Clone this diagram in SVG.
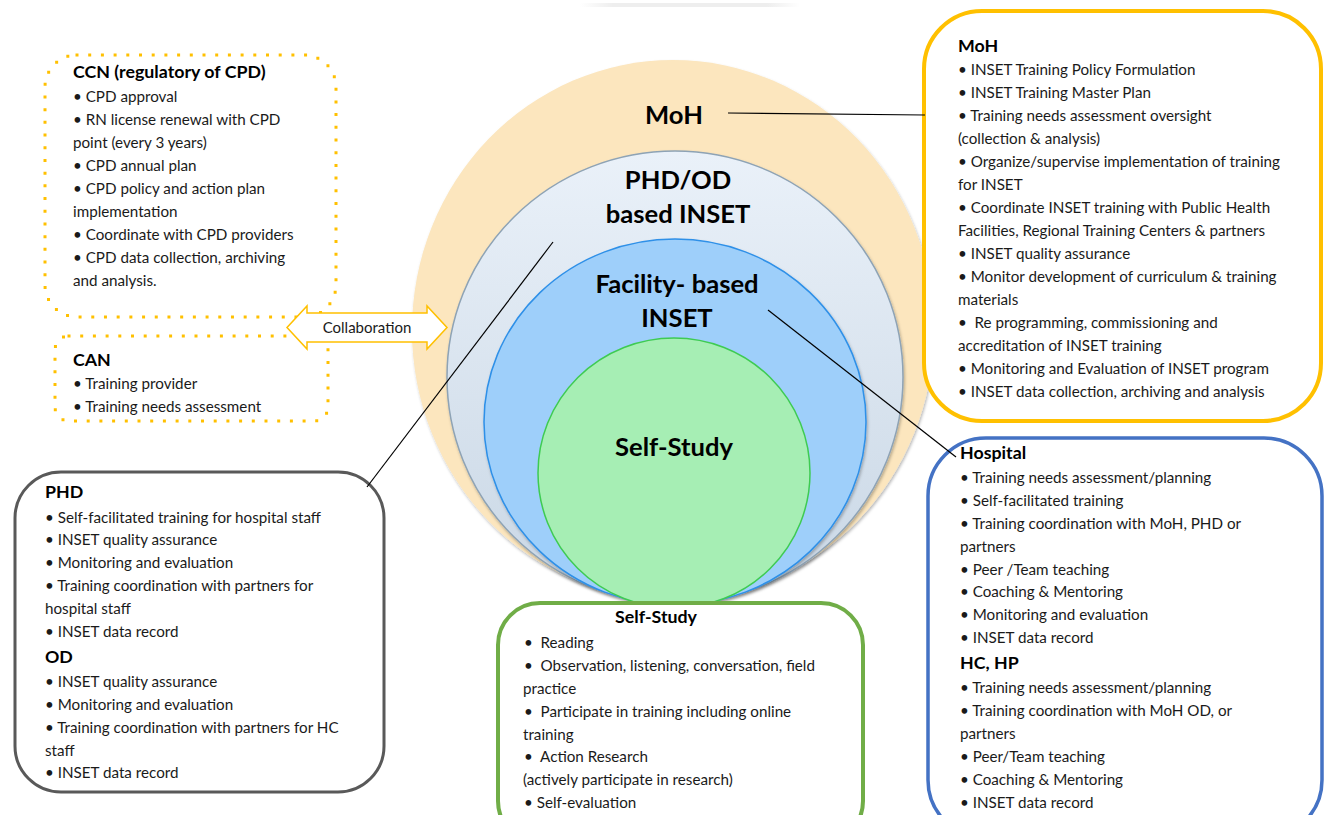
<svg xmlns="http://www.w3.org/2000/svg" width="1325" height="815" viewBox="0 0 1325 815">
  <style>
    .t { font-family: Lato, "Liberation Sans", sans-serif; font-size: 15.2px; fill: #1a1a1a; }
    .b { font-family: Lato, "Liberation Sans", sans-serif; font-size: 17.8px; font-weight: bold; fill: #000; }
    .c { font-family: Lato, "Liberation Sans", sans-serif; font-size: 25.6px; font-weight: bold; fill: #000; text-anchor: middle; }
    .dots { fill: #fff; stroke: #FFC000; stroke-width: 3; stroke-dasharray: 0 12.7; stroke-linecap: square; }
    .conn { stroke: #000; stroke-width: 1.2; fill: none; }
    .ring { filter: url(#soft); }
  </style>
  <defs>
    <linearGradient id="gPhd" x1="0" y1="0" x2="0" y2="1">
      <stop offset="0" stop-color="#EAF1F9"/>
      <stop offset="1" stop-color="#C9D7E5"/>
    </linearGradient>
    <linearGradient id="gTop" x1="0" y1="0" x2="1" y2="0">
      <stop offset="0" stop-color="#eee" stop-opacity="0"/>
      <stop offset="0.15" stop-color="#eee"/>
      <stop offset="0.85" stop-color="#eee"/>
      <stop offset="1" stop-color="#eee" stop-opacity="0"/>
    </linearGradient>
    <filter id="soft" x="-5%" y="-5%" width="110%" height="112%">
      <feDropShadow dx="1" dy="2" stdDeviation="1.5" flood-color="#000" flood-opacity="0.28"/>
    </filter>
  </defs>

  <rect width="1325" height="815" fill="#fff"/>
  <rect x="580" y="3" width="220" height="4" fill="url(#gTop)"/>

  <!-- nested levels -->
  <g id="level-moh">
    <ellipse class="ring" cx="673" cy="330" rx="261" ry="270" fill="#FCE6BE"/>
    <text class="c" x="674" y="124">MoH</text>
  </g>
  <g id="level-phd">
    <ellipse class="ring" cx="675" cy="377" rx="228" ry="226" fill="url(#gPhd)" stroke="#8EA3B5" stroke-width="1.5"/>
    <text class="c" x="678" y="189">PHD/OD</text>
    <text class="c" x="678" y="223">based INSET</text>
  </g>
  <g id="level-facility">
    <ellipse class="ring" cx="675" cy="422" rx="191" ry="183" fill="#9ECFFA" stroke="#2E90E8" stroke-width="1.5"/>
    <text class="c" x="677" y="293">Facility- based</text>
    <text class="c" x="677" y="327">INSET</text>
  </g>
  <g id="level-self">
    <ellipse cx="674" cy="473" rx="136" ry="135" fill="#A6EEB4" stroke="#3ECB52" stroke-width="1.5"/>
    <text class="c" x="674" y="456">Self-Study</text>
  </g>

  <!-- CCN -->
  <g id="ccn">
    <rect class="dots" x="45" y="55" width="291" height="262" rx="32"/>
    <text class="b" x="73" y="78">CCN (regulatory of CPD)</text>
    <text class="t" x="73" y="102">• CPD approval</text>
    <text class="t" x="73" y="125">• RN license renewal with CPD</text>
    <text class="t" x="73" y="148">point (every 3 years)</text>
    <text class="t" x="73" y="171">• CPD annual plan</text>
    <text class="t" x="73" y="194">• CPD policy and action plan</text>
    <text class="t" x="73" y="217">implementation</text>
    <text class="t" x="73" y="240">• Coordinate with CPD providers</text>
    <text class="t" x="73" y="263">• CPD data collection, archiving</text>
    <text class="t" x="73" y="286">and analysis.</text>
  </g>

  <!-- CAN -->
  <g id="can">
    <rect class="dots" x="55" y="336" width="273" height="85" rx="14"/>
    <text class="b" x="73" y="366">CAN</text>
    <text class="t" x="73" y="389">• Training provider</text>
    <text class="t" x="73" y="412">• Training needs assessment</text>
  </g>

  <!-- MoH -->
  <g id="moh">
    <rect x="924" y="11" width="397" height="410" rx="58" fill="#fff" stroke="#FFC000" stroke-width="4"/>
    <text class="b" x="958" y="52">MoH</text>
    <text class="t" x="958" y="75">• INSET Training Policy Formulation</text>
    <text class="t" x="958" y="98">• INSET Training Master Plan</text>
    <text class="t" x="958" y="121">• Training needs assessment oversight</text>
    <text class="t" x="958" y="144">(collection &amp; analysis)</text>
    <text class="t" x="958" y="167">• Organize/supervise implementation of training</text>
    <text class="t" x="958" y="190">for INSET</text>
    <text class="t" x="958" y="213">• Coordinate INSET training with Public Health</text>
    <text class="t" x="958" y="236">Facilities, Regional Training Centers &amp; partners</text>
    <text class="t" x="958" y="259">• INSET quality assurance</text>
    <text class="t" x="958" y="282">• Monitor development of curriculum &amp; training</text>
    <text class="t" x="958" y="305">materials</text>
    <text class="t" x="958" y="328" xml:space="preserve">•  Re programming, commissioning and</text>
    <text class="t" x="958" y="351">accreditation of INSET training</text>
    <text class="t" x="958" y="374">• Monitoring and Evaluation of INSET program</text>
    <text class="t" x="958" y="397">• INSET data collection, archiving and analysis</text>
  </g>

  <!-- Hospital / HC, HP -->
  <g id="hospital">
    <rect x="928" y="438" width="394" height="400" rx="58" fill="#fff" stroke="#4472C4" stroke-width="3.5"/>
    <text class="b" x="960" y="459">Hospital</text>
    <text class="t" x="960" y="483">• Training needs assessment/planning</text>
    <text class="t" x="960" y="506">• Self-facilitated training</text>
    <text class="t" x="960" y="529">• Training coordination with MoH, PHD or</text>
    <text class="t" x="960" y="552">partners</text>
    <text class="t" x="960" y="575">• Peer /Team teaching</text>
    <text class="t" x="960" y="597">• Coaching &amp; Mentoring</text>
    <text class="t" x="960" y="620">• Monitoring and evaluation</text>
    <text class="t" x="960" y="643">• INSET data record</text>
    <text class="b" x="960" y="669">HC, HP</text>
    <text class="t" x="960" y="693">• Training needs assessment/planning</text>
    <text class="t" x="960" y="716">• Training coordination with MoH OD, or</text>
    <text class="t" x="960" y="739">partners</text>
    <text class="t" x="960" y="762">• Peer/Team teaching</text>
    <text class="t" x="960" y="785">• Coaching &amp; Mentoring</text>
    <text class="t" x="960" y="808">• INSET data record</text>
  </g>

  <!-- PHD / OD -->
  <g id="phd">
    <rect x="15" y="472" width="369" height="320" rx="46" fill="#fff" stroke="#595959" stroke-width="3"/>
    <text class="b" x="45" y="498">PHD</text>
    <text class="t" x="45" y="523">• Self-facilitated training for hospital staff</text>
    <text class="t" x="45" y="545">• INSET quality assurance</text>
    <text class="t" x="45" y="568">• Monitoring and evaluation</text>
    <text class="t" x="45" y="591">• Training coordination with partners for</text>
    <text class="t" x="45" y="614">hospital staff</text>
    <text class="t" x="45" y="637">• INSET data record</text>
    <text class="b" x="45" y="663">OD</text>
    <text class="t" x="45" y="687">• INSET quality assurance</text>
    <text class="t" x="45" y="710">• Monitoring and evaluation</text>
    <text class="t" x="45" y="733">• Training coordination with partners for HC</text>
    <text class="t" x="45" y="756">staff</text>
    <text class="t" x="45" y="778">• INSET data record</text>
  </g>

  <!-- Self-Study -->
  <g id="self-study">
    <rect x="498" y="603" width="365" height="240" rx="42" fill="#fff" stroke="#70AD47" stroke-width="4"/>
    <text class="b" x="656" y="623" text-anchor="middle">Self-Study</text>
    <text class="t" x="524" y="648" xml:space="preserve">•  Reading</text>
    <text class="t" x="524" y="671" xml:space="preserve">•  Observation, listening, conversation, field</text>
    <text class="t" x="523" y="694">practice</text>
    <text class="t" x="524" y="717" xml:space="preserve">•  Participate in training including online</text>
    <text class="t" x="523" y="740">training</text>
    <text class="t" x="524" y="762" xml:space="preserve">•  Action Research</text>
    <text class="t" x="523" y="785">(actively participate in research)</text>
    <text class="t" x="524" y="808">• Self-evaluation</text>
  </g>

  <!-- connectors (drawn last so they sit above the boxes) -->
  <g id="connectors">
    <line class="conn" x1="728" y1="113" x2="925" y2="115"/>
    <line class="conn" x1="553" y1="242" x2="367" y2="487"/>
    <line class="conn" x1="768" y1="310" x2="956" y2="457"/>
    <path id="collaboration" d="M287,327.5 L307,306 L307,313 L427,313 L427,306 L447,327.5 L427,349 L427,342 L307,342 L307,349 Z" fill="#fff" stroke="#FFC000" stroke-width="1.5" stroke-linejoin="miter"/>
    <text class="t" x="367" y="332.5" text-anchor="middle" style="font-size:15px">Collaboration</text>
  </g>
</svg>
